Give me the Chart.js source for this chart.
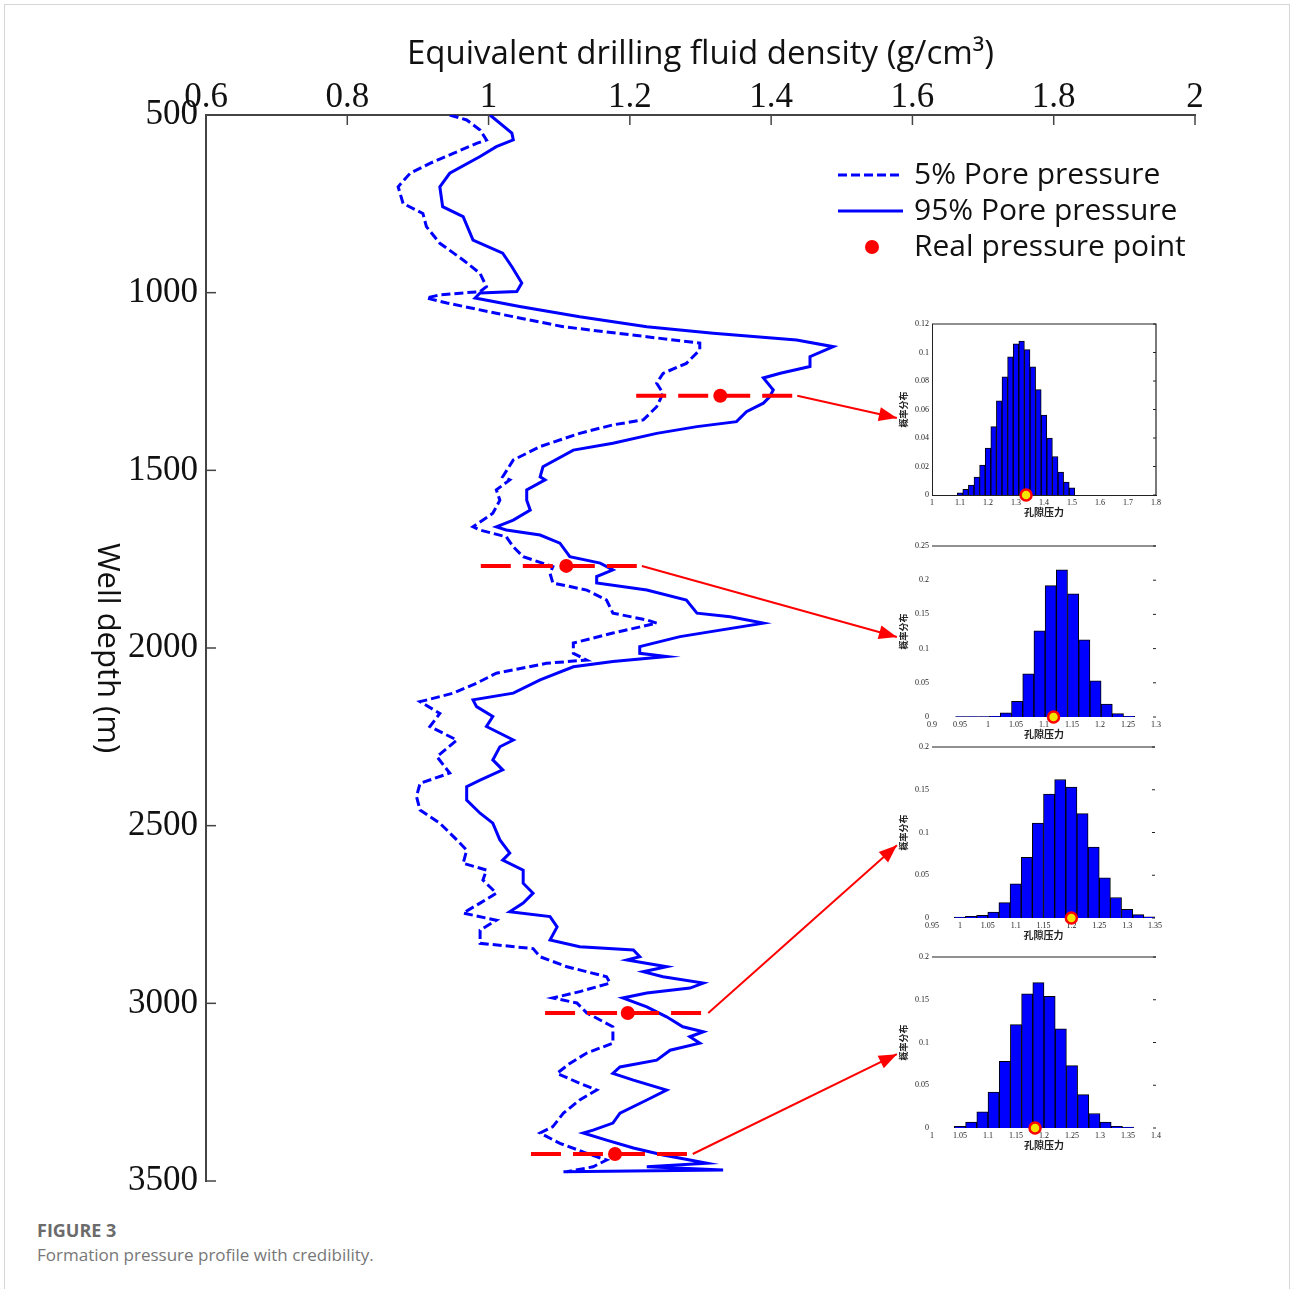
<!doctype html>
<html lang="en">
<head>
<meta charset="utf-8">
<title>Formation pressure profile with credibility</title>
<script src="https://cdn.jsdelivr.net/npm/chart.js@4.4.1/dist/chart.umd.min.js"></script>
<style>
  html, body { margin: 0; padding: 0; background: #fff; }
  #page { position: relative; width: 1290px; height: 1289px; overflow: hidden; }
  #frame { position: absolute; left: 4px; top: 4px; width: 1284px; height: 1320px; border: 1px solid #d6d6d6; }
  canvas { position: absolute; }
  #main { left: 0; top: 0; }
  .inset { left: 890px; }
  #caption { position: absolute; left: 37px; top: 1217px; font-family: "Open Sans", sans-serif; }
  #caption .num { font-weight: 700; font-size: 18px; color: #6b6b6b; line-height: 26px; }
  #caption .txt { font-size: 17px; color: #777; line-height: 24px; }
</style>
<script>
// 5% pore pressure (dashed) - depth (m) / density (g/cm3)
const depth5 = [500,514,542,570,580,608,636,664,702,749,777,814,861,908,946,983,997,1006,1015,1029,
  1058,1096,1124,1142,1161,1199,1227,1255,1283,1321,1358,1372,1396,1433,1471,1518,1527,1555,1584,1621,
  1659,1668,1687,1715,1743,1771,1790,1817,1837,1865,1902,1921,1930,1958,1986,2015,2034,2043,2071,2099,
  2127,2151,2184,2221,2259,2306,2352,2381,2418,2456,2493,2540,2569,2606,2625,2653,2690,2718,2746,2766,
  2794,2831,2846,2869,2897,2925,2943,2967,2985,2999,3027,3066,3112,3140,3169,3197,3225,3244,3272,3309,
  3347,3365,3394,3422,3441,3460,3474];
const dens5 = [0.945,0.969,0.988,0.997,0.983,0.950,0.917,0.889,0.872,0.879,0.907,0.912,0.931,0.964,0.988,0.997,0.988,0.931,0.912,0.941,
  1.011,1.106,1.224,1.299,1.299,1.280,1.247,1.238,1.247,1.238,1.219,1.176,1.129,1.073,1.035,1.020,1.030,1.011,1.016,1.006,
  0.978,0.988,1.025,1.035,1.049,1.091,1.087,1.091,1.139,1.167,1.176,1.224,1.238,1.176,1.120,1.120,1.139,1.082,1.011,0.983,
  0.950,0.903,0.931,0.917,0.955,0.927,0.945,0.903,0.898,0.903,0.931,0.955,0.969,0.964,0.997,0.992,1.011,0.988,0.964,1.011,
  0.988,0.988,1.063,1.073,1.111,1.167,1.172,1.129,1.091,1.125,1.139,1.176,1.176,1.139,1.115,1.097,1.129,1.153,1.129,1.106,
  1.091,1.073,1.101,1.139,1.167,1.148,1.111];

// 95% pore pressure (solid)
const depth95 = [500,551,570,589,617,664,702,758,786,852,889,927,973,997,1001,1015,1039,1068,1096,1114,
  1133,1152,1180,1208,1227,1240,1274,1293,1311,1335,1363,1377,1396,1424,1443,1490,1518,1527,1555,1584,
  1612,1640,1659,1668,1682,1705,1743,1761,1780,1799,1817,1837,1865,1902,1912,1930,1968,1996,2015,2024,
  2038,2053,2090,2127,2146,2165,2193,2221,2259,2278,2315,2343,2372,2390,2428,2465,2493,2540,2577,2597,
  2625,2662,2690,2718,2742,2756,2785,2822,2841,2850,2869,2878,2897,2911,2925,2943,2957,2971,2985,3010,
  3038,3066,3080,3094,3112,3132,3160,3179,3197,3216,3244,3272,3309,3337,3357,3365,3385,3407,3427,3441,
  3450,3460,3469,3474];
const dens95 = [1.002,1.033,1.035,1.011,0.988,0.945,0.931,0.935,0.964,0.978,1.020,1.033,1.047,1.040,0.988,0.981,1.044,1.129,1.224,1.318,
  1.436,1.488,1.455,1.455,1.413,1.389,1.403,1.398,1.389,1.365,1.351,1.295,1.238,1.176,1.120,1.077,1.073,1.080,1.054,1.054,
  1.059,1.035,1.011,1.025,1.073,1.101,1.115,1.158,1.176,1.153,1.153,1.224,1.280,1.295,1.342,1.389,1.271,1.214,1.214,1.252,
  1.176,1.120,1.073,1.035,0.978,0.983,1.006,0.997,1.035,1.016,1.006,1.020,0.988,0.969,0.969,0.988,1.006,1.016,1.030,1.020,
  1.049,1.049,1.063,1.049,1.030,1.087,1.097,1.087,1.129,1.205,1.214,1.196,1.252,1.219,1.247,1.304,1.285,1.224,1.190,1.224,
  1.252,1.275,1.304,1.285,1.299,1.257,1.238,1.186,1.176,1.205,1.252,1.224,1.186,1.176,1.148,1.134,1.167,1.205,1.247,1.285,
  1.309,1.224,1.332,1.106];

// real pressure points and their red marker lines
const realDepth = [1290, 1769, 3027, 3424];
const realDens = [1.328, 1.110, 1.197, 1.179];
const markStart = [1.209, 0.989, 1.080, 1.060];
const markEnd = [1.437, 1.217, 1.311, 1.289];
// arrow tips pointing at the histograms
const arrowTipDens = [1.578, 1.578, 1.578, 1.578];
const arrowTipDepth = [1353, 1969, 2555, 3143];

const xTicksMain = [0.6, 0.8, 1, 1.2, 1.4, 1.6, 1.8, 2];
const yTicksMain = [500, 1000, 1500, 2000, 2500, 3000, 3500];

// histograms (孔隙压力 vs 概率分布)
const hist1Centers = [1.10,1.12,1.14,1.16,1.18,1.20,1.22,1.24,1.26,1.28,1.30,1.32,1.34,1.36,1.38,1.40,1.42,1.44,1.46,1.48,1.50];
const hist1Freq = [0.0016,0.004,0.007,0.0126,0.021,0.033,0.048,0.066,0.083,0.097,0.106,0.108,0.102,0.090,0.074,0.056,0.040,0.027,0.016,0.009,0.005];
const hist2Centers = [0.952,0.972,0.992,1.012,1.032,1.052,1.072,1.092,1.112,1.132,1.152,1.172,1.192,1.212,1.232,1.252];
const hist2Freq = [0.0005,0.0005,0.0005,0.001,0.006,0.023,0.063,0.126,0.192,0.215,0.180,0.113,0.053,0.019,0.005,0.001];
const hist3Centers = [1.00,1.02,1.04,1.06,1.08,1.10,1.12,1.14,1.16,1.18,1.20,1.22,1.24,1.26,1.28,1.30,1.32,1.34];
const hist3Freq = [0.001,0.002,0.003,0.007,0.018,0.040,0.071,0.111,0.145,0.162,0.153,0.122,0.083,0.047,0.024,0.010,0.004,0.0015];
const hist4Centers = [1.05,1.07,1.09,1.11,1.13,1.15,1.17,1.19,1.21,1.23,1.25,1.27,1.29,1.31,1.33,1.35];
const hist4Freq = [0.002,0.007,0.019,0.042,0.078,0.121,0.157,0.170,0.154,0.116,0.073,0.039,0.017,0.007,0.002,0.001];
const histReal = [1.336, 1.117, 1.200, 1.184];

const insetXMin = [1, 0.9, 0.95, 1];
const insetXMax = [1.8, 1.3, 1.35, 1.4];
const insetXStep = [0.1, 0.05, 0.05, 0.05];
const insetYMax = [0.12, 0.25, 0.2, 0.2];
const insetYStep = [0.02, 0.05, 0.05, 0.05];

const pts = (xs, ys) => xs.map((x, i) => ({ x: x, y: ys[i] }));
const fmt = v => String(+Number(v).toFixed(3));

// ticks drawn inward, legend, rotated y title, arrow heads
const mainDecor = {
    id: 'mainDecor',
    afterDraw(chart) {
        const { ctx, chartArea, scales } = chart;
        ctx.save();
        ctx.strokeStyle = '#444';
        ctx.lineWidth = 1.5;
        scales.x.ticks.forEach(t => {
            const px = scales.x.getPixelForValue(t.value);
            ctx.beginPath();
            ctx.moveTo(px, chartArea.top);
            ctx.lineTo(px, chartArea.top + 10);
            ctx.stroke();
        });
        scales.y.ticks.forEach(t => {
            const py = scales.y.getPixelForValue(t.value);
            ctx.beginPath();
            ctx.moveTo(chartArea.left, py);
            ctx.lineTo(chartArea.left + 10, py);
            ctx.stroke();
        });

        // arrow heads
        ctx.fillStyle = '#ff0000';
        chart.data.datasets.forEach((ds, i) => {
            if (!ds.isArrow) return;
            const p = chart.getDatasetMeta(i).data;
            const a = p[0], b = p[1];
            const ang = Math.atan2(b.y - a.y, b.x - a.x);
            ctx.save();
            ctx.translate(b.x, b.y);
            ctx.rotate(ang);
            ctx.beginPath();
            ctx.moveTo(0, 0);
            ctx.lineTo(-18, -7);
            ctx.lineTo(-18, 7);
            ctx.closePath();
            ctx.fill();
            ctx.restore();
        });

        // y axis title, reading top to bottom
        ctx.save();
        ctx.translate(107, (chartArea.top + chartArea.bottom) / 2);
        ctx.rotate(Math.PI / 2);
        ctx.fillStyle = '#111';
        ctx.font = '31px "Open Sans"';
        ctx.textAlign = 'center';
        ctx.textBaseline = 'middle';
        ctx.fillText('Well depth (m)', 0, 0);
        ctx.restore();

        // legend
        const lx = 838, tx = 914, rows = [175, 211, 247];
        ctx.strokeStyle = '#0000ff';
        ctx.lineWidth = 3;
        ctx.setLineDash([9, 4]);
        ctx.beginPath(); ctx.moveTo(lx, rows[0]); ctx.lineTo(lx + 65, rows[0]); ctx.stroke();
        ctx.setLineDash([]);
        ctx.beginPath(); ctx.moveTo(lx, rows[1]); ctx.lineTo(lx + 65, rows[1]); ctx.stroke();
        ctx.fillStyle = '#ff0000';
        ctx.beginPath(); ctx.arc(lx + 34, rows[2], 7, 0, Math.PI * 2); ctx.fill();
        ctx.fillStyle = '#111';
        ctx.font = '30px "Open Sans"';
        ctx.textAlign = 'left';
        ctx.textBaseline = 'middle';
        ['5% Pore pressure', '95% Pore pressure', 'Real pressure point'].forEach((s, i) => ctx.fillText(s, tx, rows[i]));
        ctx.restore();
    }
};

const insetDecor = {
    id: 'insetDecor',
    afterDraw(chart) {
        const { ctx, chartArea } = chart;
        const full = chart.options.fullBox;
        ctx.save();
        ctx.strokeStyle = '#222';
        ctx.lineWidth = 1.2;
        ctx.beginPath();
        ctx.moveTo(chartArea.left, chartArea.top);
        ctx.lineTo(chartArea.right, chartArea.top);
        if (full) ctx.lineTo(chartArea.right, chartArea.bottom);
        ctx.stroke();
        // small tick marks on the right side
        ctx.lineWidth = 1;
        chart.scales.y.ticks.forEach(t => {
            const py = chart.scales.y.getPixelForValue(t.value);
            ctx.beginPath();
            ctx.moveTo(chartArea.right - 3, py);
            ctx.lineTo(chartArea.right, py);
            ctx.stroke();
        });
        ctx.restore();
    }
};

function makeMain() {
    const datasets = [];
    datasets.push({
        label: 'Real pressure point',
        data: pts(realDens, realDepth),
        pointRadius: 7, pointHoverRadius: 7,
        backgroundColor: '#ff0000', borderWidth: 0,
        order: 0
    });
    realDepth.forEach((d, i) => {
        datasets.push({
            label: 'marker ' + (i + 1),
            data: [{ x: markStart[i], y: d }, { x: markEnd[i], y: d }],
            showLine: true, pointRadius: 0,
            borderColor: '#ff0000', borderWidth: 4, borderDash: [30, 12],
            order: 1
        });
        datasets.push({
            label: 'arrow ' + (i + 1),
            isArrow: true,
            data: [{ x: markEnd[i], y: d }, { x: arrowTipDens[i], y: arrowTipDepth[i] }],
            showLine: true, pointRadius: 0,
            borderColor: '#ff0000', borderWidth: 2,
            order: 1
        });
    });
    datasets.push({
        label: '95% Pore pressure',
        data: pts(dens95, depth95),
        showLine: true, pointRadius: 0,
        borderColor: '#0000ff', borderWidth: 3,
        order: 2
    });
    datasets.push({
        label: '5% Pore pressure',
        data: pts(dens5, depth5),
        showLine: true, pointRadius: 0,
        borderColor: '#0000ff', borderWidth: 3, borderDash: [9, 4],
        order: 3
    });

    const tickFont = { family: 'Liberation Serif', size: 35 };
    new Chart(document.getElementById('main'), {
        type: 'scatter',
        data: { datasets: datasets },
        options: {
            responsive: false,
            animation: false,
            layout: { padding: { left: 0, right: 95, top: 0, bottom: 19 } },
            plugins: { legend: { display: false }, tooltip: { enabled: false } },
            scales: {
                x: {
                    type: 'linear', position: 'top', min: 0.6, max: 2,
                    afterBuildTicks: s => { s.ticks = xTicksMain.map(v => ({ value: v })); },
                    ticks: { color: '#111', font: tickFont, padding: -4, maxRotation: 0, autoSkip: false, callback: fmt },
                    grid: { display: false, drawTicks: false },
                    border: { display: true, color: '#444', width: 2 },
                    title: {
                        display: true, text: 'Equivalent drilling fluid density (g/cm³)',
                        color: '#111', font: { family: 'Open Sans', size: 33 },
                        padding: { top: 35, bottom: 0 }
                    },
                    afterFit: s => { s.height = 115; }
                },
                y: {
                    type: 'linear', reverse: true, min: 500, max: 3500,
                    afterBuildTicks: s => { s.ticks = yTicksMain.map(v => ({ value: v })); },
                    ticks: { color: '#111', font: tickFont, padding: 8, autoSkip: false, callback: fmt },
                    grid: { display: false, drawTicks: false },
                    border: { display: true, color: '#444', width: 2 },
                    afterFit: s => { s.width = 206; }
                }
            }
        },
        plugins: [mainDecor]
    });
}

function makeInset(id, k, centers, freq) {
    const small = { family: 'Liberation Serif', size: 8 };
    new Chart(document.getElementById(id), {
        type: 'bar',
        data: {
            datasets: [{
                type: 'scatter',
                data: [{ x: histReal[k], y: 0 }],
                pointRadius: 5.5, backgroundColor: '#f2e600',
                borderColor: '#ff0000', borderWidth: 2.5,
                clip: false, order: 0
            }, {
                type: 'scatter',
                data: [{ x: histReal[k], y: 0 }],
                pointRadius: 2, backgroundColor: '#28c870', borderWidth: 0,
                clip: false, order: 0
            }, {
                type: 'bar',
                data: pts(centers, freq),
                backgroundColor: '#0000ff', borderColor: '#000', borderWidth: 1,
                barPercentage: 1, categoryPercentage: 1,
                order: 1
            }]
        },
        options: {
            responsive: false,
            animation: false,
            fullBox: k === 0,
            layout: { padding: { left: 0, right: 9, top: 12, bottom: 0 } },
            plugins: { legend: { display: false }, tooltip: { enabled: false } },
            scales: {
                x: {
                    type: 'linear', offset: false, min: insetXMin[k], max: insetXMax[k],
                    ticks: { stepSize: insetXStep[k], color: '#222', font: small, padding: 3, maxRotation: 0, autoSkip: false, callback: fmt },
                    grid: { display: false, drawTicks: false, offset: false },
                    border: { display: k === 0, color: '#222', width: 1 },
                    title: { display: true, text: '孔隙压力', color: '#222', font: { family: 'Noto Sans CJK SC', size: 10, weight: 'bold' }, padding: { top: 0, bottom: 9 } },
                    afterFit: s => { s.height = 32; }
                },
                y: {
                    type: 'linear', min: 0, max: insetYMax[k],
                    ticks: { stepSize: insetYStep[k], color: '#222', font: small, padding: 3, autoSkip: false, callback: fmt },
                    grid: { display: false, drawTicks: false },
                    border: { display: k === 0, color: '#222', width: 1 },
                    title: { display: true, text: '概率分布', color: '#222', font: { family: 'Noto Sans CJK SC', size: 9, weight: 'bold' }, padding: { top: 8, bottom: 0 } },
                    afterFit: s => { s.width = 42; }
                }
            }
        },
        plugins: [insetDecor]
    });
}

window.onload = () => {
    makeMain();
    makeInset('inset1', 0, hist1Centers, hist1Freq);
    makeInset('inset2', 1, hist2Centers, hist2Freq);
    makeInset('inset3', 2, hist3Centers, hist3Freq);
    makeInset('inset4', 3, hist4Centers, hist4Freq);
};
</script>
</head>
<body>
<div id="page">
  <div id="frame"></div>
  <canvas id="main" width="1290" height="1210"></canvas>
  <canvas id="inset1" class="inset" width="275" height="215" style="top:312px"></canvas>
  <canvas id="inset2" class="inset" width="275" height="215" style="top:534px"></canvas>
  <canvas id="inset3" class="inset" width="275" height="215" style="top:735px"></canvas>
  <canvas id="inset4" class="inset" width="275" height="215" style="top:945px"></canvas>
  <div id="caption">
    <div class="num">FIGURE 3</div>
    <div class="txt">Formation pressure profile with credibility.</div>
  </div>
</div>
</body>
</html>
